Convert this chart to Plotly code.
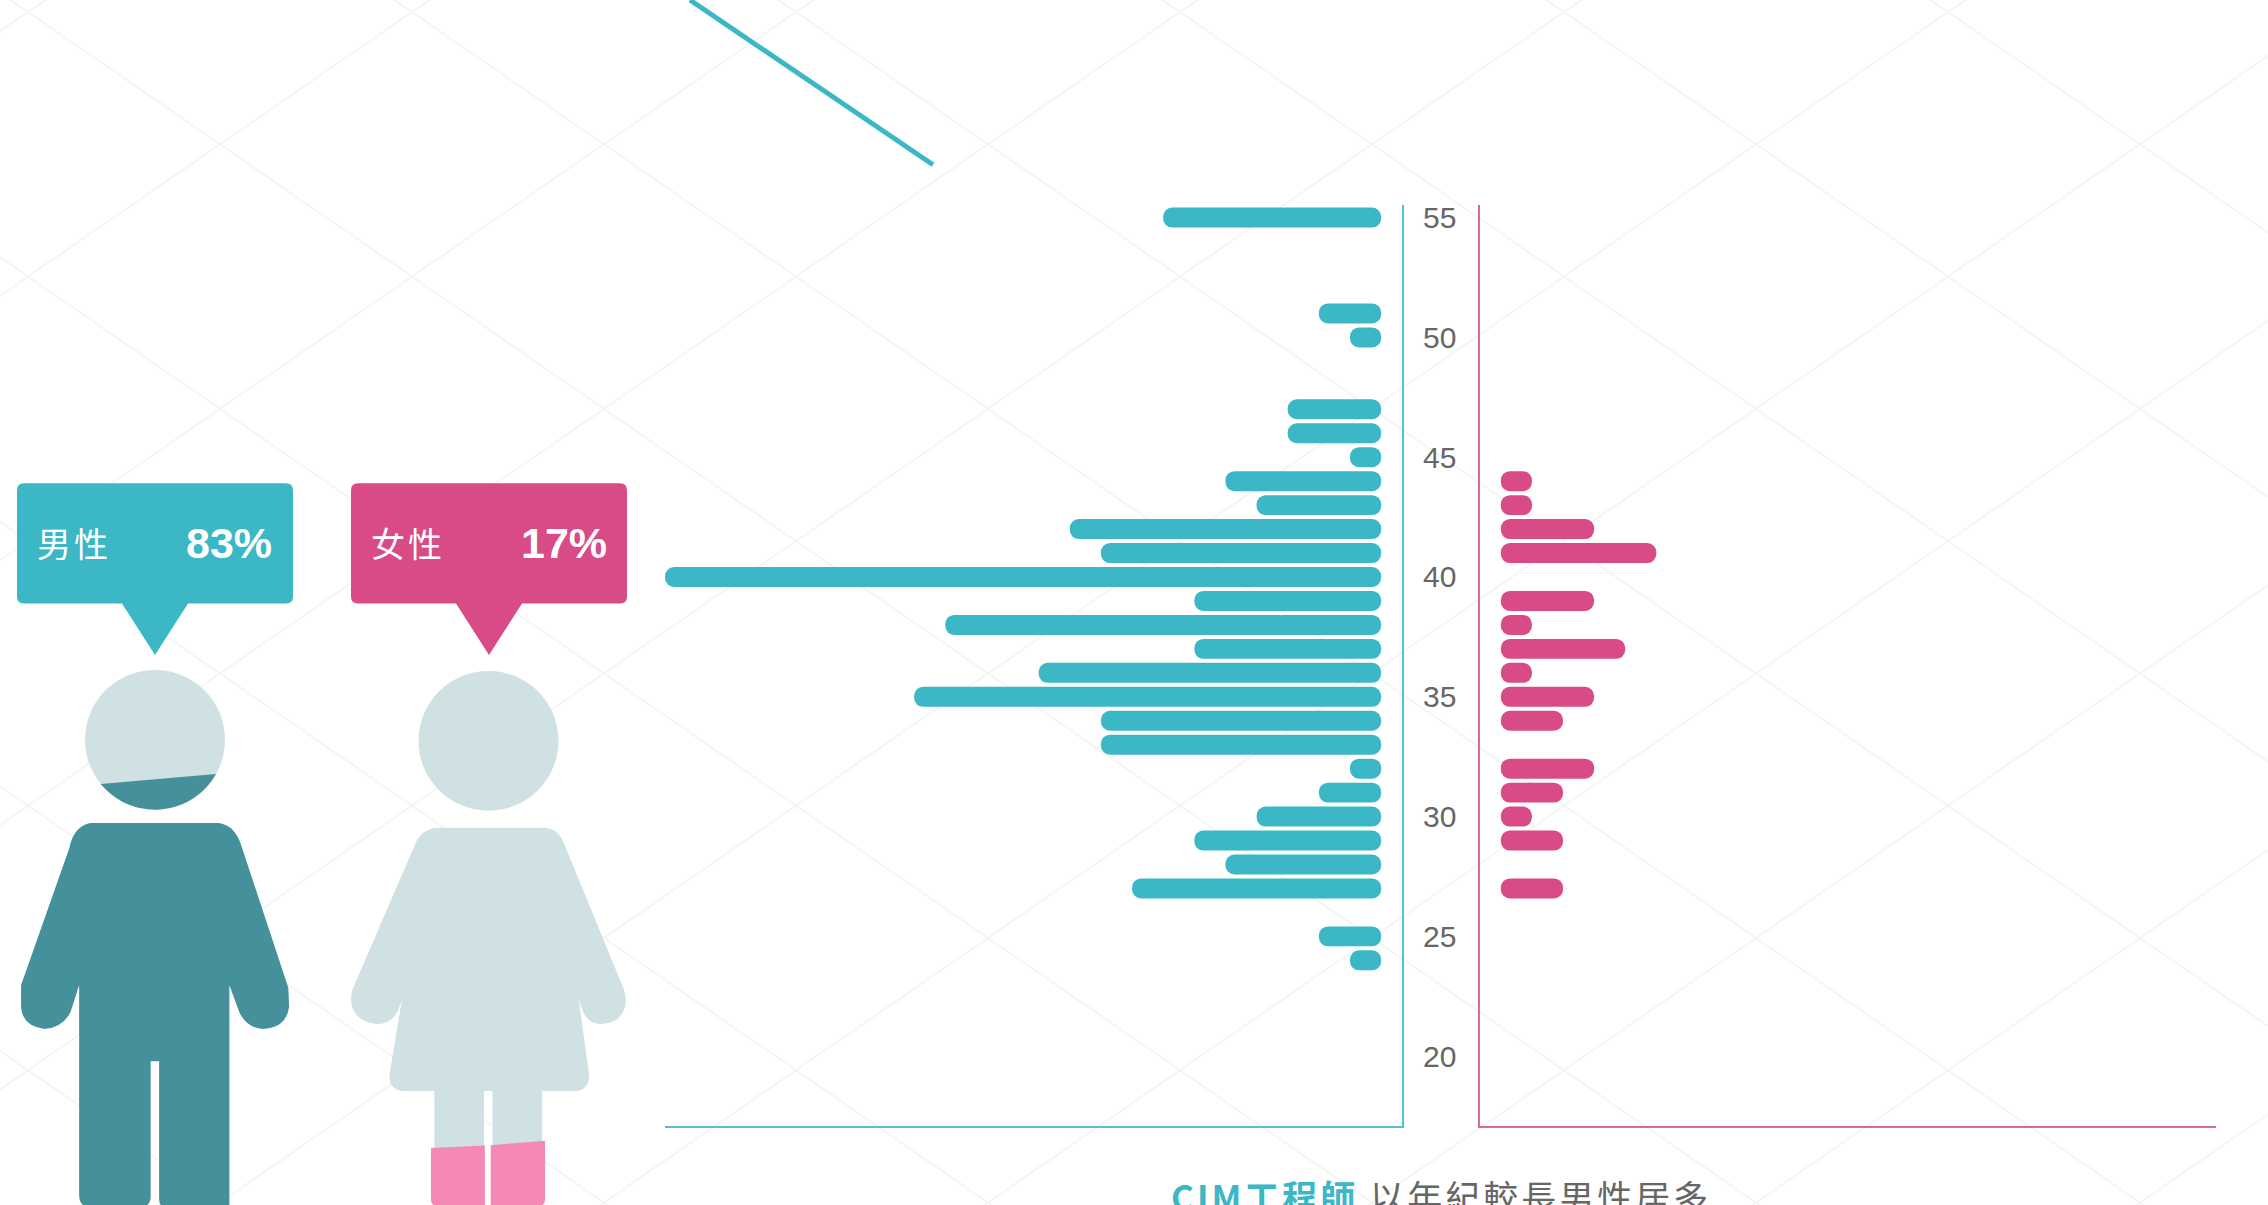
import math
import plotly.graph_objects as go

# ---------- data ----------
ages = [55, 54, 53, 52, 51, 50, 49, 48, 47, 46, 45, 44, 43, 42, 41, 40, 39, 38, 37, 36, 35,
        34, 33, 32, 31, 30, 29, 28, 27, 26, 25, 24]
male = [7, 0, 0, 0, 2, 1, 0, 0, 3, 3, 1, 5, 4, 10, 9, 23, 6, 14, 6, 11, 15,
        9, 9, 1, 2, 4, 6, 5, 8, 0, 2, 1]
female = [0, 0, 0, 0, 0, 0, 0, 0, 0, 0, 0, 1, 1, 3, 5, 0, 3, 1, 4, 1, 3,
          2, 0, 3, 2, 1, 2, 0, 2, 0, 0, 0]
age_ticks = [20, 25, 30, 35, 40, 45, 50, 55]
male_label = ["男性", "83%"]
female_label = ["女性", "17%"]
caption_em = "CIM工程師"
caption_rest = "以年紀較長男性居多"

# ---------- styles ----------
W, H = 2268, 1205
TEAL, PINK = "#3bb7c6", "#d94b87"
TEAL_AX, PINK_AX = "#4fc1cf", "#e3659b"
DARK_TEAL, LIGHT, BOOT = "#44919b", "#cfe1e3", "#f589b6"
GRID = "#f5f5f5"
TXT = "#666666"
CJK = "Noto Sans CJK TC, sans-serif"


def px(x):
    return x / W


def py(y):
    # small correction so that paper positions land on the intended pixel rows
    return 1 - (y - 2 * (1 - y / H)) / H


def pth(cmds, zx=1.0, zy=1.0, oy=0.0):
    out = []
    for c in cmds:
        op, vals = c[0], c[1:]
        parts = []
        for i in range(0, len(vals), 2):
            parts.append(f"{px(vals[i] / zx):.5f},{py(oy + vals[i + 1] / zy):.5f}")
        out.append(op + " " + " ".join(parts))
    return " ".join(out)


shapes = []


def add_path(d, color):
    shapes.append(dict(type="path", xref="paper", yref="paper", path=d,
                       fillcolor=color, line=dict(width=0), layer="above"))


def add_circle(cx, cy, r, color):
    shapes.append(dict(type="circle", xref="paper", yref="paper",
                       x0=px(cx - r), x1=px(cx + r), y0=py(cy + r), y1=py(cy - r),
                       fillcolor=color, line=dict(width=0), layer="above"))


# background lattice
SL = 132.5 / 192
for k in range(-8, 12):
    for s in (1, -1):
        x0, x1 = -20, W + 20
        y0 = 10 + 265 * k + s * SL * (x0 - 796)
        y1 = 10 + 265 * k + s * SL * (x1 - 796)
        shapes.append(dict(type="line", xref="paper", yref="paper", layer="below",
                           x0=px(x0), x1=px(x1), y0=py(y0), y1=py(y1),
                           line=dict(color=GRID, width=2)))

# decorative teal stroke
shapes.append(dict(type="line", xref="paper", yref="paper", layer="above",
                   x0=px(690), y0=py(-2), x1=px(933), y1=py(163),
                   line=dict(color=TEAL, width=5)))


def bubble(x0, color):
    x1, yt, yb, r = x0 + 276, 482, 602.5, 7
    c = x0 + 138
    d = pth([("M", x0 + r, yt), ("L", x1 - r, yt), ("Q", x1, yt, x1, yt + r),
             ("L", x1, yb - r), ("Q", x1, yb, x1 - r, yb), ("L", c + 33, yb),
             ("L", c, 654), ("L", c - 33, yb), ("L", x0 + r, yb),
             ("Q", x0, yb, x0, yb - r), ("L", x0, yt + r), ("Q", x0, yt, x0 + r, yt), ("Z",)])
    add_path(d, color)


bubble(17, TEAL)
bubble(351, PINK)

ZX, ZY, OY = 2.376, 2.105, 460

# male figure
add_circle(155, 739, 70, LIGHT)
a1, a2 = math.atan2(44, -54), math.atan2(35.5, 63)
seg = [("M", 155 + 70 * math.cos(a1), 739 + 70 * math.sin(a1))]
for i in range(1, 31):
    a = a1 + (a2 - a1) * i / 30
    seg.append(("L", 155 + 70 * math.cos(a), 739 + 70 * math.sin(a)))
seg.append(("Z",))
add_path(pth(seg), DARK_TEAL)

add_path(pth([
    ("M", 215, 763), ("L", 520, 763), ("Q", 560, 768, 575, 815), ("L", 685, 1110), ("L", 687, 1150),
    ("Q", 680, 1195, 625, 1197), ("Q", 585, 1195, 568, 1160), ("L", 545, 1105), ("L", 545, 1570),
    ("L", 385, 1570), ("Q", 378, 1568, 378, 1555), ("L", 378, 1265), ("L", 358, 1265),
    ("L", 358, 1555), ("Q", 355, 1568, 345, 1570), ("L", 200, 1570), ("Q", 188, 1565, 188, 1545),
    ("L", 188, 1105), ("L", 168, 1160), ("Q", 150, 1195, 105, 1197), ("Q", 52, 1190, 50, 1150),
    ("L", 50, 1105), ("L", 165, 815), ("Q", 175, 770, 215, 763), ("Z",)], ZX, ZY, OY), DARK_TEAL)

# female figure
add_circle(488.5, 740, 70, LIGHT)
add_path(pth([
    ("M", 1040, 773), ("L", 1295, 773), ("Q", 1328, 775, 1342, 810), ("L", 1483, 1115),
    ("Q", 1497, 1160, 1460, 1180), ("Q", 1405, 1200, 1385, 1160), ("L", 1375, 1135),
    ("L", 1400, 1295), ("Q", 1400, 1326, 1365, 1328), ("L", 1288, 1328), ("L", 1288, 1450),
    ("L", 1170, 1450), ("L", 1170, 1328), ("L", 1150, 1328), ("L", 1150, 1450), ("L", 1032, 1450),
    ("L", 1032, 1328), ("L", 960, 1328), ("Q", 925, 1326, 925, 1295), ("L", 955, 1135),
    ("L", 945, 1160), ("Q", 920, 1200, 865, 1180), ("Q", 825, 1160, 837, 1115), ("L", 985, 810),
    ("Q", 1000, 775, 1040, 773), ("Z",)], ZX, ZY, OY), LIGHT)
add_path(pth([("M", 1024, 1448), ("L", 1152, 1443), ("L", 1152, 1570), ("L", 1035, 1570),
              ("Q", 1024, 1568, 1024, 1555), ("Z",)], ZX, ZY, OY), BOOT)
add_path(pth([("M", 1166, 1442), ("L", 1295, 1433), ("L", 1295, 1555), ("Q", 1295, 1568, 1284, 1570),
              ("L", 1166, 1570), ("Z",)], ZX, ZY, OY), BOOT)

# ---------- traces ----------
fig = go.Figure()
RAD = 10


def bars(vals, color, xa, ya, name):
    pts = [(a, v) for a, v in zip(ages, vals) if v > 0]
    fig.add_trace(go.Bar(y=[a for a, _ in pts], x=[v for _, v in pts], base=[0.0] * len(pts),
                         orientation="h", xaxis=xa, yaxis=ya, name=name, showlegend=False,
                         hoverinfo="skip", width=20 / 24, cliponaxis=False,
                         marker=dict(color=color, cornerradius=RAD, line=dict(width=0))))


bars(male, TEAL, "x", "y", "男性")
bars(female, PINK, "x2", "y2", "女性")

Y_RANGE = [17.08, 55.54]
AXW = 2


def ann(text, xc, yc, size, color, bold=False):
    if bold:
        t, fam = f"<b>{text}</b>", "Liberation Sans, Arial, sans-serif"
    else:
        t, fam = f'<span style="letter-spacing:3px">{text}</span>', CJK
    return dict(text=t, xref="paper", yref="paper", x=px(xc), y=py(yc),
                xanchor="center", yanchor="middle", showarrow=False,
                font=dict(size=size, color=color, family=fam))


annotations = [
    ann(male_label[0], 74, 541, 34, "white"),
    ann(male_label[1], 229.4, 542, 43, "white", True),
    ann(female_label[0], 408, 541, 34, "white"),
    ann(female_label[1], 563.6, 542, 43, "white", True),
    dict(text=(f'<span style="letter-spacing:3px"><span style="color:{TEAL}"><b>{caption_em}</b></span>'
               f' {caption_rest}</span>'),
         xref="paper", yref="paper", x=px(1441), y=py(1195), xanchor="center", yanchor="middle",
         showarrow=False, font=dict(size=35, color=TXT, family=CJK)),
]

fig.update_layout(
    width=W, height=H, autosize=False,
    margin=dict(l=0, r=0, t=0, b=0, pad=0),
    paper_bgcolor="white", plot_bgcolor="rgba(0,0,0,0)",
    barmode="overlay", showlegend=False,
    shapes=shapes, annotations=annotations,
    font=dict(family="Liberation Sans, Arial, sans-serif"),
    xaxis=dict(domain=[px(665), px(1402)], range=[23, -0.67], anchor="y",
               showgrid=False, zeroline=False, showticklabels=False, ticks="",
               showline=True, linecolor=TEAL_AX, linewidth=AXW),
    xaxis2=dict(domain=[px(1480), px(2216)], range=[-0.67, 23], anchor="y2",
                showgrid=False, zeroline=False, showticklabels=False, ticks="",
                showline=True, linecolor=PINK_AX, linewidth=AXW),
    yaxis=dict(domain=[py(1126), py(203)], range=Y_RANGE, anchor="x", side="right",
               tickmode="array", tickvals=age_ticks, ticktext=[str(t) for t in age_ticks],
               showgrid=False, zeroline=False, ticks="", ticklabelstandoff=13,
               tickfont=dict(size=30, color=TXT, family="Liberation Sans, Arial, sans-serif"),
               showline=True, linecolor=TEAL_AX, linewidth=AXW),
    yaxis2=dict(domain=[py(1126), py(203)], range=Y_RANGE, anchor="x2", side="left",
                showgrid=False, zeroline=False, showticklabels=False, ticks="",
                showline=True, linecolor=PINK_AX, linewidth=AXW),
)

fig.write_html("out.html", config={"displayModeBar": False},
               post_script="document.body.style.margin='0';document.body.style.overflow='hidden';")
